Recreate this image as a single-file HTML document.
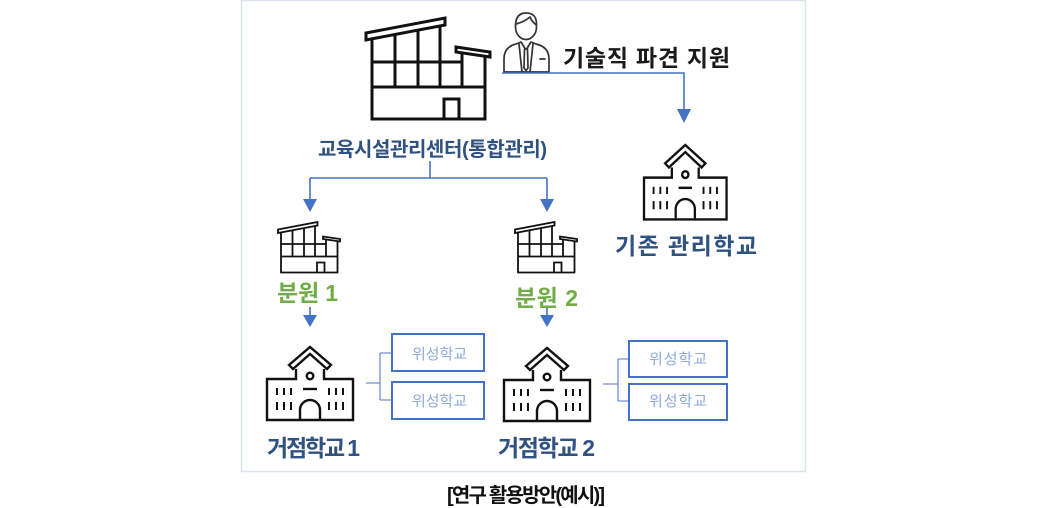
<!DOCTYPE html>
<html><head><meta charset="utf-8">
<style>
html,body{margin:0;padding:0;background:#fff;}
svg{display:block;}
text{font-family:"Liberation Sans","Noto Sans CJK KR",sans-serif;}
</style></head>
<body>
<svg width="1050" height="508" viewBox="0 0 1050 508" xmlns="http://www.w3.org/2000/svg">
<defs>
  <g id="bld" fill="none" stroke-linejoin="miter">
    <polygon points="0,15 79,0 79,7 0,22" fill="#fff"/>
    <line x1="6" y1="21" x2="6" y2="101"/>
    <line x1="29" y1="17" x2="29" y2="69"/>
    <line x1="52" y1="12" x2="52" y2="69"/>
    <line x1="74" y1="8" x2="74" y2="69"/>
    <polygon points="90,29 124,34 124,39 90,34" fill="#fff"/>
    <line x1="96" y1="35" x2="96" y2="69"/>
    <line x1="119" y1="38" x2="119" y2="101"/>
    <line x1="6" y1="44" x2="96" y2="44"/>
    <line x1="6" y1="69" x2="119" y2="69"/>
    <line x1="4.5" y1="101" x2="120.5" y2="101"/>
    <polyline points="78,101 78,81 93,81 93,101"/>
  </g>
  <g id="sch" fill="none" stroke="#111" stroke-width="2.4">
    <polygon points="22,18 43,0 64,18 60,22 43,7 26,22" fill="#fff" stroke-linejoin="miter"/>
    <polyline points="29,22 29,32 0,32 0,73 86,73 86,32 57,32 57,22"/>
    <circle cx="43" cy="29" r="3.3"/>
    <line x1="36" y1="42" x2="50" y2="42"/>
    <path d="M33,73 V63 A10,10 0 0 1 53,63 V73"/>
    <g stroke-width="2">
      <line x1="10" y1="41" x2="10" y2="48"/><line x1="17" y1="41" x2="17" y2="48"/><line x1="24" y1="41" x2="24" y2="48"/>
      <line x1="10" y1="55" x2="10" y2="63"/><line x1="17" y1="55" x2="17" y2="63"/><line x1="24" y1="55" x2="24" y2="63"/>
      <line x1="62" y1="41" x2="62" y2="48"/><line x1="69" y1="41" x2="69" y2="48"/><line x1="76" y1="41" x2="76" y2="48"/>
      <line x1="62" y1="55" x2="62" y2="63"/><line x1="69" y1="55" x2="69" y2="63"/><line x1="76" y1="55" x2="76" y2="63"/>
    </g>
  </g>
</defs>

<!-- frame -->
<rect x="241.5" y="0.5" width="564" height="471" fill="#fff" stroke="#dbe4f0" stroke-width="1.5"/>

<!-- big building -->
<g transform="translate(366,18)" stroke="#111" stroke-width="3"><use href="#bld"/></g>
<!-- small buildings -->
<g transform="translate(278,222) scale(0.5)" stroke="#111" stroke-width="3.6"><use href="#bld"/></g>
<g transform="translate(515,222) scale(0.5)" stroke="#111" stroke-width="3.6"><use href="#bld"/></g>

<!-- person icon -->
<g fill="#fff" stroke="#333" stroke-width="1.7" stroke-linejoin="round" stroke-linecap="round">
  <path d="M504,72 V59 Q504,47 516,44 L521,42 L526,50 L531,42 L536,44 Q549,47 549,59 V72 Z"/>
  <ellipse cx="526" cy="27" rx="10.5" ry="12.5"/>
  <path d="M515.5,25 Q516,13 526,13 Q537,13 536.5,25 Q532,22 530,17 Q524,22 516,24" fill="#fff"/>
  <line x1="519" y1="44" x2="522" y2="72"/>
  <line x1="533" y1="44" x2="530" y2="72"/>
  <path d="M524.5,49 L527.5,49 L528,68 L526,70.5 L524,68 Z"/>
  <line x1="540" y1="59" x2="545" y2="59"/>
</g>

<!-- schools -->
<use href="#sch" transform="translate(644,145) scale(0.96,1.02)"/>
<use href="#sch" transform="translate(267,347)"/>
<use href="#sch" transform="translate(504,348)"/>

<!-- connectors -->
<g stroke="#4472c4" stroke-width="1.6" fill="none">
  <path d="M502,73 H684 V110"/>
  <path d="M430,161 V178 M310,178 H547 M310,178 V200 M547,178 V200"/>
  <path d="M310,307 V316 M547,308 V316"/>
</g>
<g fill="#4472c4">
  <polygon points="677,109 691,109 684,123"/>
  <polygon points="303,199 317,199 310,212"/>
  <polygon points="540,199 554,199 547,212"/>
  <polygon points="303,315 317,315 310,327"/>
  <polygon points="540,315 554,315 547,327"/>
</g>

<!-- satellite connectors -->
<g stroke="#6f8fd0" stroke-width="1.3" fill="none">
  <path d="M366,383 H380 M380,353 V400 M380,353 H392 M380,400 H392"/>
  <path d="M603,384 H618 M618,359 V401 M618,359 H629 M618,401 H629"/>
</g>
<g stroke="#4472c4" stroke-width="2" fill="#fff">
  <rect x="392" y="334" width="92" height="37"/>
  <rect x="392" y="382" width="92" height="37"/>
  <rect x="629" y="341" width="98" height="36"/>
  <rect x="629" y="384" width="98" height="36"/>
</g>
<g fill="#8eaadb" font-size="15">
  <text x="412" y="359" textLength="55" lengthAdjust="spacing">위성학교</text>
  <text x="412" y="406" textLength="55" lengthAdjust="spacing">위성학교</text>
  <text x="649" y="364" textLength="58" lengthAdjust="spacing">위성학교</text>
  <text x="649" y="406" textLength="58" lengthAdjust="spacing">위성학교</text>
</g>

<!-- labels -->
<text x="563" y="66" font-size="23" font-weight="bold" fill="#1a1a1a" textLength="167" lengthAdjust="spacing">기술직 파견 지원</text>
<text x="318" y="156" font-size="20" font-weight="bold" fill="#2f5282" textLength="229" lengthAdjust="spacing">교육시설관리센터(통합관리)</text>
<text x="615" y="254" font-size="23" font-weight="bold" fill="#2f5282" textLength="142" lengthAdjust="spacing">기존 관리학교</text>
<text x="277" y="301" font-size="23" font-weight="bold" fill="#70ad47" textLength="61" lengthAdjust="spacing">분원 1</text>
<text x="515" y="306" font-size="23" font-weight="bold" fill="#70ad47" textLength="63" lengthAdjust="spacing">분원 2</text>
<text x="267" y="456" font-size="23" font-weight="bold" fill="#2f5282" textLength="93" lengthAdjust="spacing">거점학교 1</text>
<text x="498" y="456" font-size="23" font-weight="bold" fill="#2f5282" textLength="97" lengthAdjust="spacing">거점학교 2</text>
<text x="447" y="502" font-size="20" font-weight="bold" fill="#111" textLength="158" lengthAdjust="spacing">[연구 활용방안(예시)]</text>
</svg>
</body></html>
